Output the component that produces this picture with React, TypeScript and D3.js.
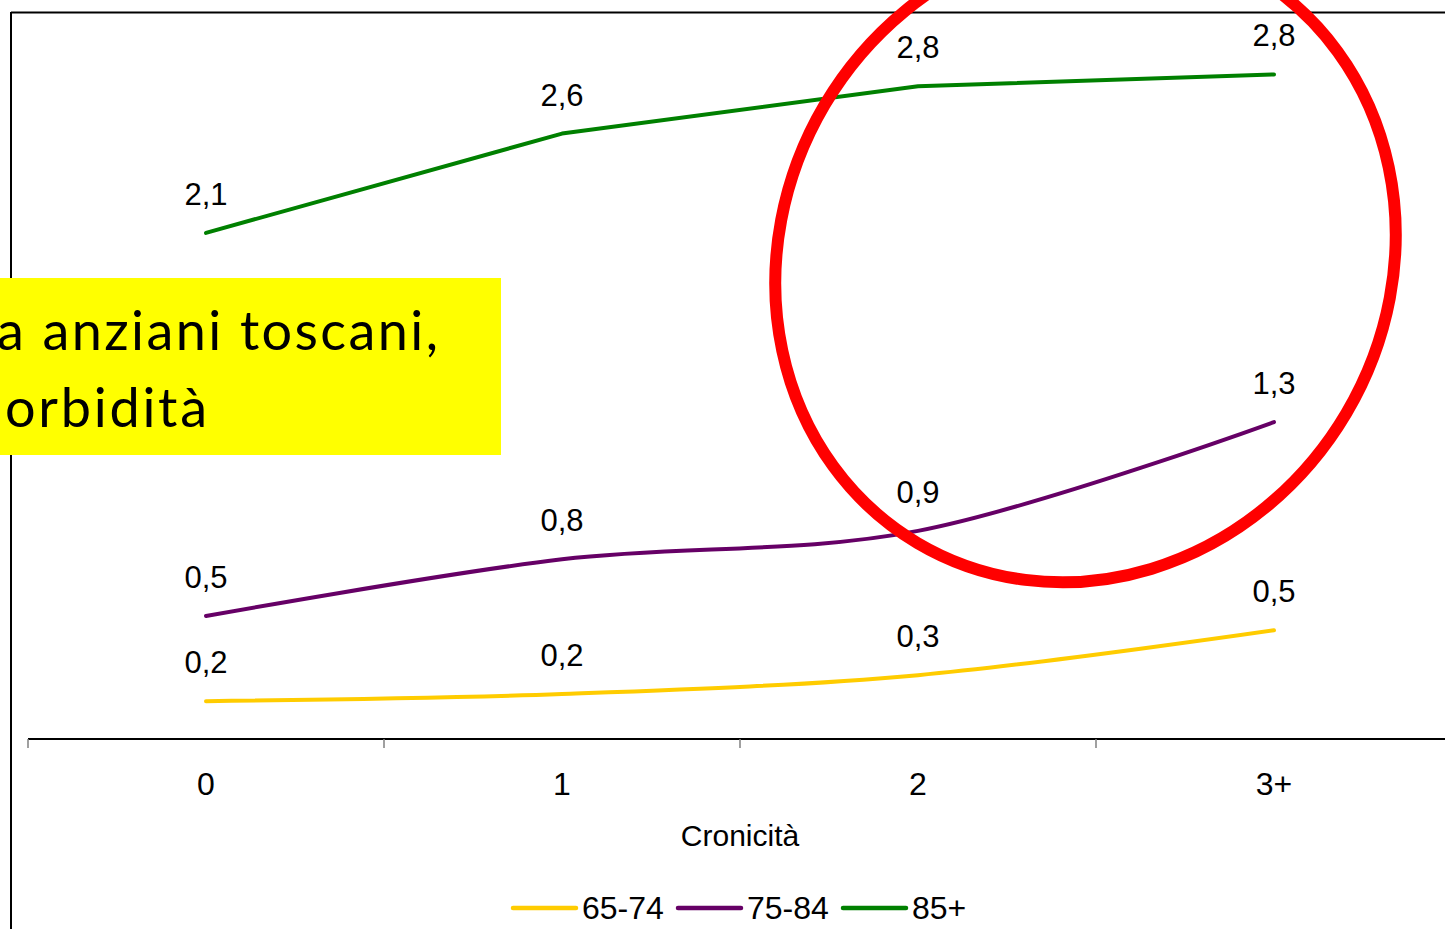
import * as d3 from "d3";

// Cronicità categories and rate per age group
const categories = ["0", "1", "2", "3+"];
const values6574 = [0.16, 0.19, 0.27, 0.46];
const values7584 = [0.52, 0.76, 0.88, 1.34];
const values85 = [2.14, 2.56, 2.76, 2.81];
const seriesNames = ["65-74", "75-84", "85+"];
const seriesColors = ["#FFCC00", "#660066", "#008000"];
const overlayLines = ["a anziani toscani,", "orbidità"];

const W = 1445,
  H = 929;
const axisY = 739;

const itFormat = d3
  .formatLocale({ decimal: ",", thousands: ".", grouping: [3], currency: ["€", ""] })
  .format(".1f");

export default function App() {
  const x = d3.scaleBand().domain(categories).range([28, 28 + 4 * 356]);
  const y = d3.scaleLinear().domain([0, 3]).range([axisY, axisY - 3 * 236.5]);
  const cx = (i: number) => (x(categories[i]) as number) + x.bandwidth() / 2;

  const series = [
    { name: seriesNames[0], values: values6574, color: seriesColors[0], smooth: true },
    { name: seriesNames[1], values: values7584, color: seriesColors[1], smooth: true },
    { name: seriesNames[2], values: values85, color: seriesColors[2], smooth: false },
  ];

  const font = "'Liberation Sans', Arial, sans-serif";
  const tickXs = categories.map((c) => x(c) as number);

  return (
    <svg
      width={W}
      height={H}
      style={{ position: "absolute", left: 0, top: 0, display: "block", background: "#fff" }}
    >
      {/* frame */}
      <line x1={11} x2={W} y1={12.5} y2={12.5} stroke="#000" strokeWidth={2} />
      <line x1={11} x2={11} y1={12} y2={H} stroke="#000" strokeWidth={2} />

      {/* x axis */}
      <line x1={28} x2={W} y1={axisY} y2={axisY} stroke="#000" strokeWidth={2} />
      {tickXs.map((tx, i) => (
        <line key={i} x1={tx} x2={tx} y1={axisY} y2={axisY + 9} stroke="#808080" strokeWidth={1.5} />
      ))}
      {categories.map((c, i) => (
        <text key={c} x={cx(i)} y={795} textAnchor="middle" fontFamily={font} fontSize={32} fill="#000">
          {c}
        </text>
      ))}
      <text x={740} y={846} textAnchor="middle" fontFamily={font} fontSize={30} fill="#000">
        Cronicità
      </text>

      {/* lines */}
      {series.map((s) => {
        const line = d3
          .line<number>()
          .x((_, i) => cx(i))
          .y((d) => y(d))
          .curve(s.smooth ? d3.curveCardinal.tension(0) : d3.curveLinear);
        return (
          <path
            key={s.name}
            d={line(s.values) as string}
            fill="none"
            stroke={s.color}
            strokeWidth={4}
            strokeLinecap="round"
            strokeLinejoin="round"
          />
        );
      })}

      {/* data labels */}
      {series.map((s) =>
        s.values.map((v, i) => (
          <text
            key={s.name + i}
            x={cx(i)}
            y={y(v) - 28}
            textAnchor="middle"
            fontFamily={font}
            fontSize={31}
            fill="#000"
          >
            {itFormat(v)}
          </text>
        ))
      )}

      {/* legend */}
      {series.map((s, i) => {
        const lx = 513 + i * 165;
        return (
          <g key={s.name}>
            <line
              x1={lx}
              x2={lx + 63}
              y1={908}
              y2={908}
              stroke={s.color}
              strokeWidth={4.5}
              strokeLinecap="round"
            />
            <text x={lx + 69} y={919} fontFamily={font} fontSize={32} fill="#000">
              {s.name}
            </text>
          </g>
        );
      })}

      {/* yellow callout */}
      <rect x={0} y={278} width={501} height={177} fill="#FFFF00" />
      <text x={-3} y={350} fontFamily="Lato, 'Open Sans', sans-serif" fontSize={54} fill="#000" textLength={441}>
        {overlayLines[0]}
      </text>
      <text x={5} y={427} fontFamily="Lato, 'Open Sans', sans-serif" fontSize={54} fill="#000" textLength={202}>
        {overlayLines[1]}
      </text>

      {/* red highlight ellipse */}
      <ellipse
        cx={1085.5}
        cy={259}
        rx={303}
        ry={330}
        transform="rotate(30.6 1085.5 259)"
        fill="none"
        stroke="#FF0000"
        strokeWidth={12}
      />
    </svg>
  );
}
